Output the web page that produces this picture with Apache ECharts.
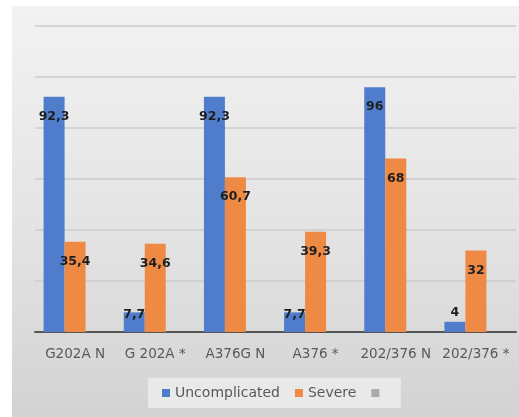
<!DOCTYPE html>
<html>
<head>
<meta charset="utf-8">
<script src="https://cdn.jsdelivr.net/npm/echarts@6/dist/echarts.min.js"></script>
<style>
  html, body { margin: 0; padding: 0; background: #ffffff; }
  #chart { width: 519px; height: 417px; }
</style>
</head>
<body>
<div id="chart"></div>
<script>
// Genotype groups along the x axis
const categories = ['G202A N', 'G 202A *', 'A376G N', 'A376 *', '202/376 N', '202/376 *'];
// Percentages per clinical course
const uncomplicated = [92.3, 7.7, 92.3, 7.7, 96, 4];
const severe = [35.4, 34.6, 60.7, 39.3, 68, 32];
// Third (empty) series kept for its legend entry and bar slot
const blank = [null, null, null, null, null, null];

const yMax = 120;
const yStep = 20;

const FONT = 'DejaVu Sans';

// Value labels sit inside the bar top; short bars get them lifted
function labelFor(v) {
  if (v >= 20) return { position: ['50%', 20] };
  if (v >= 6) return { position: ['50%', 2] };
  return { position: ['50%', -9] };
}
function withLabels(values) {
  return values.map(v => ({ value: v, label: labelFor(v) }));
}

const valueLabel = {
  show: true,
  align: 'center',
  verticalAlign: 'middle',
  color: '#1e1e1e',
  fontFamily: FONT,
  fontWeight: 'bold',
  fontSize: 12.5,
  formatter: p => String(p.value).replace('.', ',')
};

const chart = echarts.init(document.getElementById('chart'), null, { renderer: 'canvas' });

chart.setOption({
  animation: false,
  backgroundColor: '#ffffff',
  graphic: [{
    type: 'rect',
    z: -10,
    silent: true,
    shape: { x: 12, y: 6, width: 507, height: 411 },
    style: {
      fill: {
        type: 'linear', x: 0, y: 0, x2: 0, y2: 1,
        colorStops: [
          { offset: 0, color: '#f2f2f2' },
          { offset: 0.5, color: '#e5e5e5' },
          { offset: 1, color: '#d3d3d3' }
        ]
      }
    }
  }],
  grid: { left: 35, right: 3, top: 26, bottom: 85 },
  legend: {
    data: ['Uncomplicated', 'Severe', ' '],
    left: 148,
    top: 378,
    padding: [8, 12, 8, 14],
    backgroundColor: '#e9e9e9',
    itemWidth: 8,
    itemHeight: 8,
    itemGap: 15,
    icon: 'rect',
    textStyle: { color: '#595959', fontFamily: FONT, fontSize: 14 }
  },
  xAxis: {
    type: 'category',
    data: categories,
    axisLine: { lineStyle: { color: '#555555', width: 2 } },
    axisTick: { show: false },
    axisLabel: { color: '#595959', fontFamily: FONT, fontSize: 13.5, margin: 15, interval: 0 }
  },
  yAxis: {
    type: 'value',
    min: 0,
    max: yMax,
    interval: yStep,
    axisLine: { show: false },
    axisTick: { show: false },
    axisLabel: { show: false },
    splitLine: { lineStyle: { color: '#cbcbcb', width: 1.5 } }
  },
  series: [
    {
      name: 'Uncomplicated',
      type: 'bar',
      barWidth: 21,
      barGap: '0%',
      itemStyle: { color: '#4f7dcc' },
      label: valueLabel,
      data: withLabels(uncomplicated)
    },
    {
      name: 'Severe',
      type: 'bar',
      barWidth: 21,
      barGap: '0%',
      itemStyle: { color: '#ef8a45' },
      label: valueLabel,
      data: withLabels(severe)
    },
    {
      name: ' ',
      type: 'bar',
      barWidth: 21,
      barGap: '0%',
      itemStyle: { color: '#a9a9a9' },
      data: blank
    }
  ]
});
</script>
</body>
</html>
